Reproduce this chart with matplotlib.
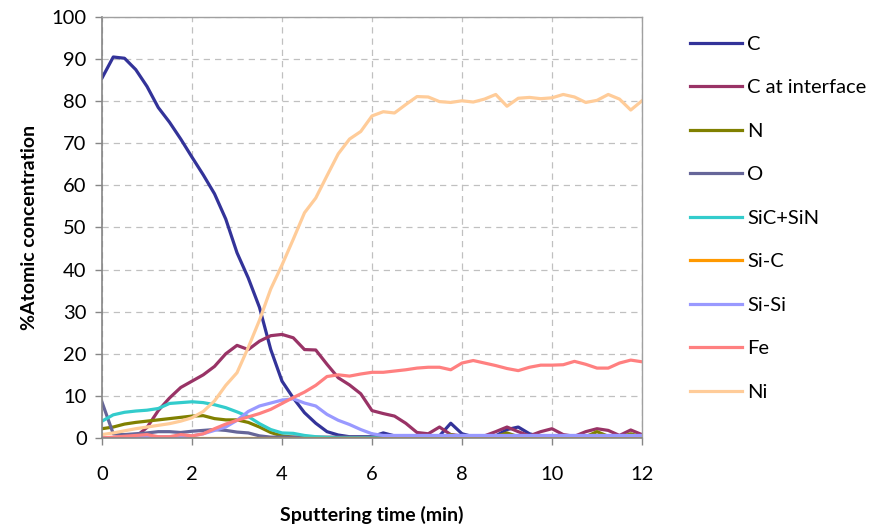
import matplotlib.pyplot as plt
import numpy as np

plt.rcParams['font.family'] = ['Lato', 'DejaVu Sans']

# sputtering time (min), one reading every 0.25 min
time_min = np.arange(0, 12.01, 0.25)

c_bulk = [85.5, 90.5, 90.2, 87.5, 83.5, 78.5, 75.0, 71.0, 66.7, 62.5,
          58.0, 52.0, 44.0, 38.0, 31.0, 21.0, 13.5, 9.5, 6.0, 3.5,
          1.5, 0.7, 0.3, 0.3, 0.3, 1.2, 0.5, 0.3, 0.3, 0.3,
          0.5, 3.5, 1.0, 0.3, 0.3, 0.5, 2.0, 2.6, 1.0, 0.3,
          0.3, 0.3, 0.3, 0.3, 0.5, 0.3, 0.3, 0.3, 0.5]
c_interface = [0.0, 0.0, 0.0, 0.3, 2.5, 6.5, 9.5, 12.0, 13.5, 15.0,
               17.0, 20.0, 22.0, 21.0, 23.0, 24.3, 24.6, 23.8, 21.0, 20.9,
               17.5, 14.3, 12.6, 10.5, 6.5, 5.8, 5.2, 3.5, 1.3, 1.0,
               2.6, 0.8, 0.5, 0.3, 0.5, 1.5, 2.6, 1.5, 0.5, 1.5,
               2.2, 0.8, 0.4, 1.5, 2.2, 1.8, 0.6, 1.9, 0.8]
nitrogen = [2.2, 2.6, 3.3, 3.7, 4.0, 4.3, 4.6, 4.9, 5.2, 5.3,
            4.6, 4.3, 4.3, 3.7, 2.6, 1.3, 0.5, 0.2, 0.1, 0.1,
            0.1, 0.1, 0.1, 0.1, 0.1, 0.1, 0.1, 0.1, 0.1, 0.1,
            0.1, 0.8, 0.2, 0.1, 0.1, 0.3, 1.2, 0.3, 0.1, 0.1,
            0.1, 0.1, 0.1, 0.3, 1.5, 0.4, 0.1, 1.0, 0.2]
oxygen = [8.5, 1.0, 0.8, 1.0, 1.2, 1.5, 1.5, 1.3, 1.6, 1.8,
          2.0, 1.8, 1.4, 1.2, 0.5, 0.2, 0.2, 0.2, 0.2, 0.2,
          0.2, 0.2, 0.2, 0.2, 0.2, 0.2, 0.2, 0.5, 0.3, 0.2,
          0.2, 0.3, 0.6, 0.3, 0.2, 0.2, 0.3, 0.2, 0.2, 0.2,
          0.2, 0.2, 0.2, 0.2, 0.2, 0.2, 0.2, 0.2, 0.2]
sic_sin = [4.0, 5.5, 6.1, 6.4, 6.6, 7.0, 8.2, 8.4, 8.6, 8.4,
           7.9, 7.2, 6.2, 5.1, 3.4, 2.0, 1.2, 1.1, 0.6, 0.3,
           0.1, 0.0, 0.0, 0.0, 0.0, 0.0, 0.0, 0.0, 0.0, 0.0,
           0.0, 0.0, 0.0, 0.0, 0.0, 0.0, 0.0, 0.0, 0.0, 0.0,
           0.0, 0.0, 0.0, 0.0, 0.0, 0.0, 0.0, 0.0, 0.0]
si_c = [0.1] * len(time_min)
si_si = [0.0, 0.0, 0.1, 0.2, 0.3, 0.3, 0.3, 0.3, 0.5, 1.0,
         1.8, 2.6, 4.2, 6.3, 7.6, 8.3, 9.0, 9.3, 8.3, 7.6,
         5.6, 4.2, 3.2, 2.0, 1.0, 0.6, 0.6, 0.6, 0.6, 0.6,
         0.6, 0.6, 0.6, 0.6, 0.6, 0.6, 0.6, 0.6, 0.6, 0.6,
         0.6, 0.6, 0.6, 0.6, 0.6, 0.6, 0.6, 0.6, 0.6]
iron = [0.0, 0.2, 0.4, 0.6, 0.8, 0.3, 0.3, 0.8, 0.5, 1.0,
        2.2, 3.3, 4.2, 5.0, 5.8, 6.8, 8.2, 9.6, 10.9, 12.5,
        14.6, 15.0, 14.7, 15.2, 15.6, 15.6, 15.9, 16.2, 16.6, 16.8,
        16.8, 16.2, 17.8, 18.4, 17.8, 17.2, 16.5, 16.0, 16.8, 17.3,
        17.3, 17.4, 18.2, 17.5, 16.6, 16.6, 17.8, 18.5, 18.1]
nickel = [0.8, 1.2, 1.7, 2.2, 2.6, 3.0, 3.4, 4.0, 4.8, 6.3,
          8.8, 12.5, 15.5, 21.5, 28.0, 35.4, 41.1, 47.2, 53.5, 57.0,
          62.3, 67.5, 71.0, 72.8, 76.5, 77.5, 77.2, 79.2, 81.1, 81.0,
          79.9, 79.7, 80.1, 79.8, 80.5, 81.6, 78.8, 80.7, 80.9, 80.6,
          80.8, 81.6, 81.0, 79.7, 80.2, 81.6, 80.5, 77.9, 80.1]

series_names = ['C', 'C at interface', 'N', 'O', 'SiC+SiN', 'Si-C', 'Si-Si', 'Fe', 'Ni']
series_values = [c_bulk, c_interface, nitrogen, oxygen, sic_sin, si_c, si_si, iron, nickel]
series_colors = ['#333399', '#993366', '#808000', '#666699', '#33CCCC',
                 '#FF9900', '#9999FF', '#FF8080', '#FFCC99']

fig = plt.figure(figsize=(8.81, 5.28), dpi=100)
ax = fig.add_axes([0.1158, 0.1705, 0.6129, 0.7973])

for name, vals, col in zip(series_names, series_values, series_colors):
    ax.plot(time_min, vals, color=col, lw=2.3, label=name, solid_joinstyle='round')

ax.set_xlim(0, 12)
ax.set_ylim(0, 100)
ax.set_xticks(range(0, 13, 2))
ax.set_yticks(range(0, 101, 10))
ax.grid(True, color='#c0c0c0', ls=(0, (5, 4)), lw=0.9)
ax.set_axisbelow(True)
for side in ['left', 'bottom']:
    ax.spines[side].set_color('#868686')
    ax.spines[side].set_linewidth(1.2)
for side in ['top', 'right']:
    ax.spines[side].set_color('#a0a0a0')
    ax.spines[side].set_linewidth(1.0)
ax.tick_params(direction='out', length=5, width=1, color='#868686', labelsize=14.5)
ax.tick_params(axis='x', pad=15)
ax.tick_params(axis='y', pad=6)

ax.set_xlabel('Sputtering time (min)', fontsize=14, fontweight='bold', labelpad=17)
ax.set_ylabel('%Atomic concentration', fontsize=14, fontweight='bold', labelpad=10)

fig.legend(loc='upper left', bbox_to_anchor=(0.783, 0.932), frameon=False,
           fontsize=14.5, handlelength=2.6, handletextpad=0.25,
           labelspacing=1.31, borderpad=0, borderaxespad=0)

fig.savefig('out.png', dpi=100)
